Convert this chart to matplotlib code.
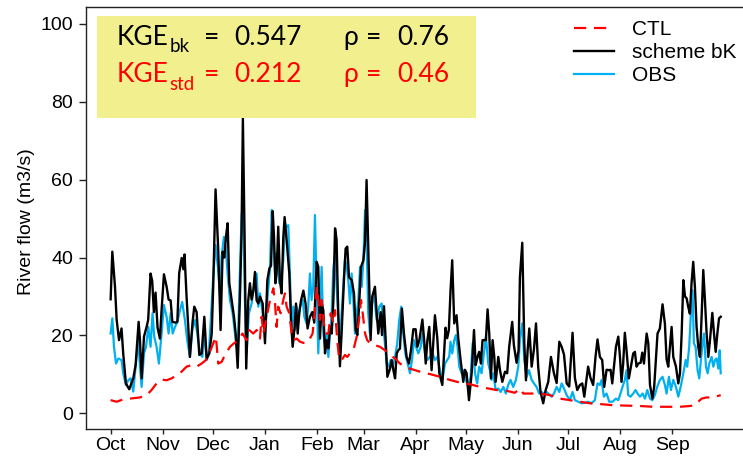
import matplotlib
matplotlib.use('Agg')
import matplotlib.pyplot as plt
import matplotlib.dates as mdates
from matplotlib.patches import Rectangle
import numpy as np
import pandas as pd

START = pd.Timestamp('2013-10-01')

# scheme bK simulated flow (day offset from 1 Oct, m3/s)
bk_day = [0, 1, 2.6, 3.6, 5, 6.5, 7.5, 9.1, 11.1, 13.5, 14.9, 16.7, 17.5, 18.5, 19.9, 21.5, 22.4, 23.8,
          24.8, 25.8, 26.8, 28, 29.4, 30.4, 31.8, 33.4, 34.6, 35.8, 36.8, 38.8, 39.8, 40.9, 42.4, 43.4,
          44.1, 45.3, 47.3, 48.9, 49.9, 51.3, 52.9, 54.3, 55.9, 57.3, 58.9, 60.3, 61.2, 62.6, 64.2, 65.6,
          66.8, 67.8, 68.8, 69.8, 70.8, 72.2, 73.6, 74.6, 75.8, 77.1, 78.1, 78.9, 79.9, 80.9, 82.1, 83.1,
          84.1, 85.1, 86.1, 87.1, 88.1, 89.1, 90.7, 92.1, 93.5, 94.7, 95.7, 96.7, 97.5, 98.3, 99.0, 100.0,
          101.0, 102.0, 103.0, 103.8, 105.0, 106.6, 107.6, 108.6, 109.8, 110.6, 111.6, 112.6, 113.6, 115.0,
          116.3, 117.5, 118.9, 120.3, 121.5, 122.9, 123.9, 124.9, 125.9, 126.9, 127.9, 128.9, 129.9, 130.9,
          131.9, 132.9, 133.9, 134.8, 135.8, 136.8, 137.8, 139.2, 140.2, 141.2, 142.2, 143.8, 145.2, 146.2,
          147.2, 148.2, 149.4, 150.8, 151.8, 152.7, 153.7, 155.1, 156.1, 157.7, 158.7, 159.7, 161.1, 161.9,
          163.1, 164.1, 165.1, 166.7, 167.7, 168.7, 169.7, 170.7, 171.6, 172.6, 173.8, 175.0, 176.6, 178.0,
          179.2, 180.6, 182.0, 183.0, 184.2, 186.0, 187.2, 188.0, 189.0, 190.1, 191.5, 193.5, 194.9, 196.1,
          197.9, 199.8, 200.8, 201.8, 202.8, 203.8, 205.0, 206.4, 207.4, 208.8, 210.4, 211.4, 212.4, 213.8,
          215.4, 216.8, 217.8, 218.9, 219.9, 220.9, 221.9, 222.9, 223.9, 224.9, 225.9, 226.9, 227.9, 228.9,
          229.7, 231.3, 232.3, 233.7, 235.3, 236.6, 237.8, 239.6, 240.6, 242.2, 243.4, 244.2, 245.6, 246.8,
          247.8, 248.8, 249.8, 251.2, 252.6, 253.8, 255.1, 256.5, 258.1, 259.5, 261.1, 262.7, 264.5, 266.1,
          267.7, 269.1, 270.5, 272.1, 273.6, 275.6, 277.0, 278.4, 280.0, 281.4, 282.6, 284.0, 284.9, 286.3,
          287.9, 289.3, 290.5, 291.9, 293.3, 294.5, 295.9, 297.3, 298.3, 299.3, 300.5, 301.5, 302.9, 303.9,
          304.8, 305.8, 306.8, 307.8, 309.2, 310.4, 311.8, 312.8, 313.8, 314.8, 316.2, 317.2, 318.2, 319.8,
          320.8, 321.8, 323.2, 324.3, 325.3, 326.3, 327.7, 329.3, 330.7, 331.7, 332.7, 333.7, 334.7, 335.7,
          337.3, 338.7, 339.7, 340.7, 341.7, 342.7, 343.7, 344.6, 345.6, 346.6, 347.6, 348.6, 349.6, 350.6,
          351.6, 352.6, 353.6, 354.6, 355.6, 356.6, 357.6, 359.0, 360.0, 361.0, 362.0, 363.0, 364.0]
bk_flow = [29.3, 41.5, 32.5, 24, 18.8, 21.8, 15.4, 7.7, 6.2, 9, 12.4, 23.5, 18.8, 9, 19.7, 22.3, 24, 35.9,
           34, 26, 31, 22, 19.2, 26.5, 35.7, 32.5, 29.2, 29, 23.5, 23.3, 23.5, 36, 39.9, 37,
           40.8, 30, 14.5, 23.5, 27.4, 26, 15, 15.4, 24.8, 14, 15.4, 20.5, 32.5, 57.5, 41.9, 21.4,
           41.5, 40, 45.3, 48.8, 33.4, 29, 24.8, 20.5, 11.7, 29, 46, 75.7, 46, 11.5, 29, 33.4,
           29.2, 31.4, 36.3, 29, 28.2, 30, 28.2, 18, 34.2, 37.2, 37.9, 51.9, 45, 33.4, 35.9, 47.9,
           34.2, 30.8, 45, 50.4, 44.5, 35.9, 24, 17.1, 22.3, 28.2, 20.5, 26, 29, 31.5,
           28.2, 21.8, 24.8, 26, 23.3, 38.9, 37.6, 19.2, 28.2, 26.5, 15.4, 18.8, 16.7, 22.3,
           20.5, 29, 47.5, 44.6, 26, 12.1, 20.5, 34.2, 42.3, 42.8, 35, 34.2, 30.8, 21.4,
           20.1, 27.4, 37.6, 39.3, 44, 59.9, 43, 18.8, 30, 32.5, 26, 20.5, 26, 20.1,
           27.5, 18.8, 9.4, 11.5, 13.7, 11.1, 9, 15.4, 16.2, 16.6, 26.9, 20.5, 14.5, 12.8,
           16.2, 21.6, 21.6, 17.1, 18.8, 24.1, 18, 12.8, 18.8, 22.2, 11.1, 25.2, 19.3, 10.3,
           7.3, 22, 19.3, 21.4, 31.5, 39.3, 23.1, 25.2, 19.3, 13.7, 8.1, 11.2, 10.3, 3.4,
           10.3, 21.4, 12.4, 14.5, 15.8, 12.8, 18.8, 18.8, 18.8, 26.7, 20.5, 9, 18.8, 14.5,
           8.1, 14.5, 11.1, 8.1, 10.7, 10.3, 17.1, 23.5, 17.5, 13, 16.2, 35, 43.8, 18,
           8.5, 16.2, 21.8, 12, 16.6, 23.1, 12, 5.5, 2.6, 5.9, 8.1, 14.5, 10.3, 7.8,
           18.4, 17.1, 15.1, 7.7, 6.9, 20.7, 9.1, 6, 7.3, 7.7, 4.3, 9.1, 12, 9.1,
           7.3, 14.5, 19, 14.5, 13.7, 6.8, 11.2, 11.1, 11.2, 7.7, 12.8, 17.1, 19.7, 14.5,
           8.1, 12.8, 20.7, 16.2, 9, 12, 15.4, 15.8, 12, 12.8, 13, 15.6, 12.8, 20.5,
           18, 7.3, 3.8, 6.8, 13.7, 20.5, 21.8, 28, 23, 13.9, 12, 17.1, 22.2, 14.5,
           12, 7.7, 10.3, 20.5, 34.2, 30, 29.5, 27.4, 25.6, 33.4, 38.9, 32.5, 22.2, 17.1,
           14.5, 24.8, 36.8, 29, 20.5, 14.5, 18.8, 25.8, 20.5, 15.8, 20.5, 24.4, 24.8]

# observed flow
obs_day = [0, 1.0, 2.0, 3.2, 4.6, 6.5, 7.5, 9.1, 10.5, 11.9, 13.5, 14.9, 16.5, 17.5, 18.5, 19.9, 21.1,
           22.5, 23.8, 25.0, 26.0, 27.4, 28.8, 30.4, 31.8, 33.4, 34.6, 35.8, 37.0, 38.4, 39.8, 41.4,
           42.7, 44.3, 45.7, 47.3, 48.7, 50.3, 51.7, 53.3, 54.7, 55.9, 57.3, 58.7, 60.0, 61.2, 62.6,
           64.0, 65.2, 66.2, 67.6, 68.8, 69.8, 71.2, 72.8, 74.2, 75.8, 77.2, 78.2, 79.1, 80.1, 81.1,
           82.5, 84.1, 85.5, 87.1, 88.1, 89.1, 90.7, 92.1, 93.5, 95.1, 96.1, 97.1, 98.1, 98.6, 99.6,
           100.6, 101.8, 103.0, 104.0, 105.0, 106.0, 107.0, 108.0, 109.0, 110.0, 111.0, 112.0, 113.0,
           114.6, 115.6, 116.9, 117.9, 118.9, 119.9, 120.9, 121.9, 122.9, 123.9, 124.9, 125.9, 126.9,
           127.9, 128.9, 129.9, 130.9, 131.9, 132.9, 133.9, 134.8, 135.8, 136.8, 137.8, 138.8, 139.8,
           140.8, 141.8, 142.8, 143.8, 144.8, 145.8, 146.8, 147.8, 148.8, 149.8, 150.8, 151.8, 152.7,
           153.7, 154.7, 155.7, 156.7, 157.7, 158.7, 160.3, 161.7, 163.1, 164.7, 165.7, 167.1, 168.3,
           169.7, 171.0, 172.2, 173.4, 174.6, 175.8, 177.2, 178.6, 179.8, 181.0, 182.2, 183.6, 185.0,
           186.2, 187.6, 189.0, 190.5, 192.1, 193.5, 194.9, 196.5, 197.9, 199.5, 200.8, 202.0, 202.8,
           203.8, 205.0, 206.0, 207.0, 208.0, 209.4, 210.8, 212.0, 213.4, 214.8, 216.0, 217.4, 218.7,
           219.9, 221.3, 222.7, 223.9, 225.3, 226.3, 227.3, 228.3, 229.7, 231.3, 232.7, 234.3, 235.8,
           237.2, 238.6, 240.2, 241.8, 243.2, 244.2, 245.6, 246.8, 248.2, 249.6, 251.2, 252.6, 254.1,
           255.7, 257.1, 258.5, 260.1, 261.7, 263.1, 264.5, 266.1, 267.7, 269.1, 270.5, 272.1, 274.0,
           275.6, 277.0, 279.0, 281.0, 283.0, 284.9, 286.9, 288.9, 290.5, 291.9, 292.9, 294.3, 295.9,
           297.5, 299.5, 301.5, 302.9, 304.2, 305.4, 306.8, 307.8, 308.8, 310.2, 311.8, 313.2, 314.4,
           315.8, 317.4, 318.8, 320.2, 321.8, 323.2, 324.7, 326.1, 327.7, 329.3, 330.7, 331.7, 333.1,
           334.3, 335.7, 337.3, 338.7, 340.1, 341.7, 343.1, 344.0, 345.2, 346.2, 347.2, 348.0, 349.0,
           350.2, 351.2, 352.2, 353.2, 354.0, 355.2, 356.2, 357.2, 358.6, 359.6, 360.6, 361.6, 362.6,
           363.4, 364.0]
obs_flow = [20.5, 24.4, 17.1, 12.8, 14.1, 13.7, 10.3, 7.3, 8.5, 9, 5.6, 12, 18.8, 12, 6.8, 15.4, 17.1,
            22.2, 17.1, 25.7, 19.7, 17.1, 12.8, 20.5, 27.8, 24.8, 20.5, 25.7, 20.5, 22.2, 23.5, 26.5,
            28.6, 24, 18.8, 14.5, 21.4, 24, 20.5, 15.4, 14.5, 20.5, 13.7, 16.2, 25.7, 35.1, 43.2,
            37.6, 30.8, 40.2, 45.3, 41.9, 35.9, 29.1, 25.7, 20.5, 15.4, 37.6, 51.3, 52.2, 29.1, 15.4,
            25.7, 28.2, 32.5, 35.9, 27.4, 30.8, 25.7, 20.5, 29.1, 37.6, 52.2, 44.5, 35.9, 41, 39.3,
            33.4, 34.2, 39.3, 48.8, 47.9, 48.3, 35.1, 22.2, 27.4, 21.4, 27.4, 24, 27.4,
            29.1, 24.8, 23.1, 27.4, 35.9, 29.1, 32.5, 50.9, 32.5, 15.4, 27.4, 37.6, 20.5,
            17.1, 20.5, 14.5, 20.5, 25.7, 37.6, 40.2, 32.5, 24.8, 18.8, 25.7, 32.5, 39.3,
            38, 34.2, 28.2, 35.9, 29.1, 20.5, 25.7, 29.1, 37.6, 32.5, 39.3, 52.2, 44.5,
            25.7, 20.5, 27.4, 30.8, 28.2, 24, 27.4, 28.2, 20.5, 12.8, 12, 13.7, 12,
            14.5, 18, 24, 27.4, 20.5, 15.4, 12.8, 10.3, 13.7, 18.8, 17.1, 15.4, 17.1,
            20.5, 15.4, 13.7, 14.5, 15.4, 13.7, 14.5, 11.1, 8.6, 12.8, 13.7, 14.5, 18.4,
            15.4, 18.8, 20.1, 17.1, 12, 10.3, 11.1, 8.6, 6.8, 9.4, 18, 10.3, 7.7,
            12, 10.3, 15.4, 19.7, 12.8, 11.1, 8.6, 10.3, 6, 6.4, 5.5, 6.8, 5.1,
            7.3, 8.6, 6.8, 8.6, 12, 18.8, 23.1, 13.7, 9.4, 11.1, 8.6, 7.7, 6.8,
            5.1, 5.5, 5.1, 5.5, 4.9, 4.3, 5.1, 6.8, 5.5, 7.7, 6.4, 4.7, 3.4,
            5.5, 3.4, 3, 2.6, 2.7, 3, 2.6, 3.4, 7.7, 7.3, 8.6, 4.3, 5.1,
            3, 3, 3.8, 3.4, 5.1, 6.8, 8.6, 11.1, 4.7, 4.3, 5.1, 6, 5.1,
            4.3, 5.1, 3.8, 6, 3.8, 3.4, 4.7, 6.8, 8.6, 9.4, 7.3, 5.1, 9.4,
            6, 8.6, 6.8, 4.3, 6.8, 10.3, 13.7, 12, 17.1, 25.6, 31.6, 18, 17.1,
            11.1, 9, 13.7, 18, 20.5, 12, 10.3, 12.8, 14.5, 12, 13.7, 14.1, 11.5,
            16.2, 10.3]

# CTL simulated flow
ctl_day = [0, 3.6, 7.5, 11.5, 17.5, 21.5, 24.4, 27.4, 30.4, 33.4, 36.4, 39.4, 42.3, 45.3, 48.3, 51.3,
           54.3, 56.9, 58.3, 59.6, 62.8, 64.2, 66.2, 68.2, 71.2, 73.6, 76.2, 78.7, 81.1, 82.7, 85.1,
           87.1, 89.1, 90.1, 91.1, 93.1, 95.1, 97.1, 98.1, 99.0, 100.0, 101.4, 103.0, 104.0, 105.0,
           106.6, 108.0, 109.0, 111.0, 113.0, 115.0, 117.0, 118.9, 120.5, 121.9, 122.9, 123.9, 124.9,
           125.9, 126.9, 127.9, 129.9, 131.3, 132.9, 133.9, 135.2, 136.4, 137.8, 139.8, 141.2, 142.8,
           144.8, 146.8, 148.4, 149.4, 150.4, 151.8, 153.1, 154.7, 157.7, 160.7, 163.7, 166.7, 169.7,
           172.6, 175.6, 178.6, 181.6, 184.6, 187.6, 190.5, 196.5, 202.4, 208.4, 214.4, 220.3, 225.3,
           230.3, 236.2, 241.2, 244.2, 246.2, 251.0, 256.1, 262.1, 268.1, 274.0, 280.0, 286.0, 292.0,
           299.9, 307.8, 315.8, 323.8, 331.7, 339.7, 345.6, 348.6, 350.6, 352.6, 355.6, 359.6, 364.0]
ctl_flow = [3.4, 3, 3.6, 3.8, 4.1, 4.7, 6, 7.7, 8.7, 8.5, 9, 9.8, 10.7, 12, 12.4, 12,
            12.8, 13.7, 15.4, 16.2, 19.7, 12.8, 13.2, 15, 17.1, 18, 18.8, 20.5, 18.8, 21.4, 20.5,
            21.4, 19.2, 24.8, 20.5, 24.8, 29.1, 32.1, 28.2, 22.2, 27.4, 25.7, 29.1, 30.8, 27.4,
            25.7, 20.5, 18.8, 19.2, 18.4, 18.1, 18.1, 19.2, 20.5, 26.5, 32.5, 29.1, 24,
            29.1, 24.8, 20.5, 20.5, 25.7, 23.1, 26.5, 18.8, 13.7, 13.7, 15, 14.5, 15.4,
            16.2, 19.7, 24.8, 29.1, 25.7, 20.5, 18.8, 18, 17.5, 17.1, 16.2, 15, 14.1,
            12.8, 12, 11.5, 11.1, 10.7, 10.3, 10.1, 9.4, 8.6, 7.9, 7.5, 6.8, 6.4,
            6, 5.8, 5.3, 6.4, 5.1, 5.1, 5.1, 4.7, 3.8, 3.4, 3, 2.6, 2.4,
            2.1, 2, 1.9, 1.7, 1.7, 1.7, 1.9, 2.1, 3, 3.8, 4.1, 4.1, 4.7]

y_ticks = [0, 20, 40, 60, 80, 100]
month_ticks = pd.date_range(START, periods=12, freq='MS')

W, H = 743, 457


def to_dates(days):
    return START + pd.to_timedelta(np.asarray(days, dtype=float), unit='D')


def fpos(x, y):
    # pixel position (from top-left) -> figure fraction
    return x / W, 1 - y / H


plt.rcParams['font.family'] = ['Liberation Sans', 'DejaVu Sans']

fig = plt.figure(figsize=(W / 100, H / 100), dpi=100)
ax = fig.add_axes([86 / W, 28 / H, 1 - 86 / W, (429 - 7) / H])

ax.plot(to_dates(obs_day), obs_flow, color='#00b0f0', lw=1.6, label='OBS', zorder=2)
ax.plot(to_dates(bk_day), bk_flow, color='black', lw=1.7, label='scheme bK', zorder=3)
ax.plot(to_dates(ctl_day), ctl_flow, color='red', lw=1.6, ls=(0, (5.5, 3.5)), label='CTL', zorder=4)

ax.set_xlim(START - pd.Timedelta(days=14.7), START + pd.Timedelta(days=377.3))
ax.set_ylim(-4.0, 104.3)
ax.set_yticks(y_ticks)
ax.set_xticks(month_ticks)
ax.xaxis.set_major_formatter(mdates.DateFormatter('%b'))
ax.tick_params(axis='y', labelsize=14, length=4.8, width=1, pad=4.5, color='#222222')
ax.tick_params(axis='x', labelsize=14, length=3.6, width=1, pad=2, color='#222222')
for side in ['left', 'bottom', 'top']:
    ax.spines[side].set_color('#222222')
    ax.spines[side].set_linewidth(1.0)
ax.spines['right'].set_visible(False)

fig.text(*fpos(27, 222), 'River flow (m3/s)', rotation=90, ha='center', va='center', fontsize=14)

handles, labels = ax.get_legend_handles_labels()
order = [2, 1, 0]
ax.legend([handles[i] for i in order], [labels[i] for i in order], loc='upper left',
          bbox_to_anchor=fpos(574, 20), bbox_transform=fig.transFigure, frameon=False,
          fontsize=15, handlelength=1.9, handletextpad=0.9, labelspacing=0.2,
          borderpad=0, borderaxespad=0)

# score box
box = Rectangle(fpos(96.7, 118), (476 - 96.7) / W, (118 - 16) / H, transform=fig.transFigure,
                facecolor='#f2ef8f', edgecolor='none', zorder=5)
fig.patches.append(box)

score_font = ['Lato', 'DejaVu Sans']
rows = [('black', 'bk', '0.547', '0.76', 45, 52),
        ('red', 'std', '0.212', '0.46', 81.7, 89.5)]
for colour, sub, kge, rho, base, sub_base in rows:
    fig.text(*fpos(116.7, base), 'KGE', color=colour, fontsize=19, family=score_font, va='baseline', zorder=6)
    fig.text(*fpos(169.3, sub_base), sub, color=colour, fontsize=13.5, family=score_font, va='baseline', zorder=6)
    fig.text(*fpos(204, base), '=', color=colour, fontsize=19, family=score_font, va='baseline', zorder=6)
    fig.text(*fpos(234.5, base), kge, color=colour, fontsize=19, family=score_font, va='baseline', zorder=6)
    fig.text(*fpos(343, base), 'ρ', color=colour, fontsize=19, family=score_font, va='baseline', zorder=6)
    fig.text(*fpos(366, base), '=', color=colour, fontsize=19, family=score_font, va='baseline', zorder=6)
    fig.text(*fpos(397, base), rho, color=colour, fontsize=19, family=score_font, va='baseline', zorder=6)

fig.savefig('out.png', dpi=100)
